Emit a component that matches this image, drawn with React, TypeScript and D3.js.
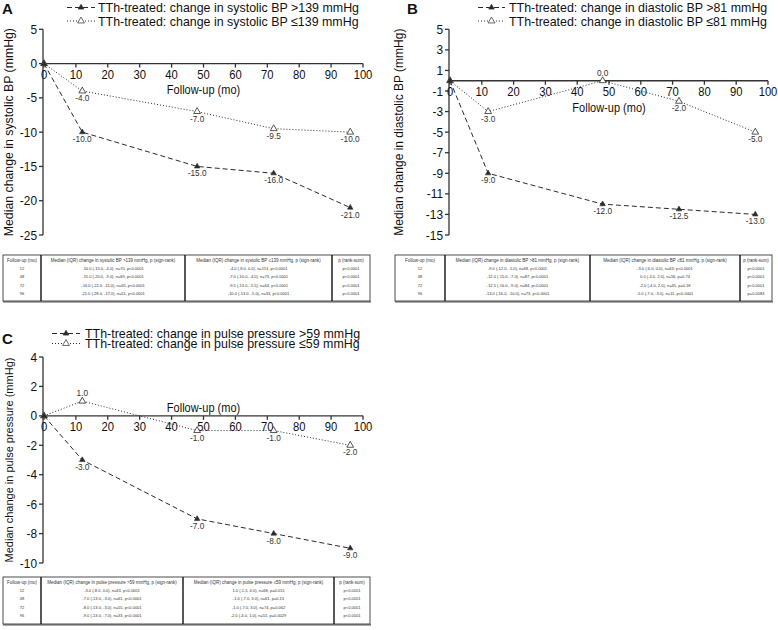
import React from "react";
import * as d3 from "d3";

// follow-up months and medians
const months = [0, 12, 48, 72, 96];
const sbpHigh = [0, -10, -15, -16, -21];
const sbpLow = [0, -4, -7, -9.5, -10];
const dbpHigh = [0, -9, -12, -12.5, -13];
const dbpLow = [0, -3, 0, -2, -5];
const ppHigh = [0, -3, -7, -8, -9];
const ppLow = [0, 1, -1, -1, -2];

const xTicks = [0, 10, 20, 30, 40, 50, 60, 70, 80, 90, 100];
const sbpTicks = [5, 0, -5, -10, -15, -20, -25];
const dbpTicks = [5, 3, 1, -1, -3, -5, -7, -9, -11, -13, -15];
const ppTicks = [4, 2, 0, -2, -4, -6, -8, -10];

const tableMonths = ["12", "48", "72", "96"];
const sbpHighRows = [
  "-10.0 (-15.0, -4.0), n=70, p<0.0001",
  "-15.0 (-20.0, -9.0), n=69, p<0.0001",
  "-16.0 (-22.0, -11.0), n=65, p<0.0001",
  "-21.0 (-28.0, -17.0), n=51, p<0.0001",
];
const sbpLowRows = [
  "-4.0 (-8.0, 0.0), n=151, p<0.0001",
  "-7.0 (-10.0, -4.0), n=73, p<0.0001",
  "-9.5 (-13.0, -5.5), n=64, p<0.0001",
  "-10.0 (-13.0, -5.0), n=33, p<0.0001",
];
const sbpP = ["p<0.0001", "p<0.0001", "p<0.0001", "p<0.0001"];
const dbpHighRows = [
  "-9.0 (-12.0, -5.0), n=68, p<0.0001",
  "-12.0 (-15.0, -7.0), n=87, p<0.0001",
  "-12.5 (-16.0, -9.0), n=84, p<0.0001",
  "-13.0 (-16.0, -10.0), n=73, p<0.0001",
];
const dbpLowRows = [
  "-3.0 (-6.0, 0.0), n=63, p<0.0001",
  "0.0 (-4.0, 2.0), n=56, p=0.74",
  "-2.0 (-4.0, 2.0), n=45, p=0.18",
  "-5.0 (-7.0, -3.0), n=11, p<0.0001",
];
const dbpP = ["p<0.0001", "p<0.0001", "p<0.0001", "p=0.0084"];
const ppHighRows = [
  "-3.0 (-8.0, 0.0), n=63, p<0.0001",
  "-7.0 (-13.0, -3.0), n=61, p<0.0001",
  "-8.0 (-13.0, -3.0), n=55, p<0.0001",
  "-9.0 (-13.0, -7.0), n=33, p<0.0001",
];
const ppLowRows = [
  "1.0 (-1.5, 4.0), n=68, p=0.015",
  "-1.0 (-7.0, 3.0), n=61, p=0.13",
  "-1.0 (-7.0, 3.0), n=74, p=0.062",
  "-2.0 (-4.0, 1.0), n=51, p=0.0029",
];
const ppP = ["p<0.0001", "p<0.0001", "p<0.0001", "p<0.0001"];

const FONT = "'Liberation Sans', Arial, sans-serif";
const INK = "#2b2b2b";

const filledTri = d3.symbol().type(d3.symbolTriangle).size(13)()!;
const openTri = d3.symbol().type(d3.symbolTriangle).size(20)()!;

// horizontally condensed text, the figure uses a narrow sans
function T({ x, y, size, anchor = "start", sx = 0.88, fill = "#111", children }) {
  return (
    <text transform={`translate(${x},${y}) scale(${sx},1)`} textAnchor={anchor} fontSize={size} fill={fill}>
      {children}
    </text>
  );
}

function Series({ x, y, values, dashed }) {
  const line = d3
    .line<number>()
    .x((_, i) => x(months[i]))
    .y((v) => y(v));
  return (
    <g>
      <path
        d={line(values) ?? ""}
        fill="none"
        stroke={INK}
        strokeWidth={1}
        strokeDasharray={dashed ? "5,3" : "1,2"}
      />
      {values.map((v, i) => (
        <path
          key={i}
          d={dashed ? filledTri : openTri}
          transform={`translate(${x(months[i])},${y(v)})`}
          fill={dashed ? INK : "#fff"}
          stroke={INK}
          strokeWidth={dashed ? 0.6 : 0.8}
        />
      ))}
      {values.map((v, i) =>
        i === 0 ? null : (
          <T key={"l" + i} x={x(months[i])} y={v >= 0 ? y(v) - 5 : y(v) + 10} size={9} anchor="middle" sx={0.92} fill="#333">
            {v.toFixed(1)}
          </T>
        )
      )}
    </g>
  );
}

function Panel({ letter, letterX, letterY, sampleX0, sampleX1, textX, rowY, legend, high, low, ticks, xRange, yRange, yTitle, titleX, titleSize, xTitleDy }) {
  const x = d3.scaleLinear().domain([0, 100]).range(xRange);
  const y = d3.scaleLinear().domain(d3.extent(ticks) as [number, number]).range(yRange);
  const ax = xRange[0] - 1;
  const ay = y(0);
  const mid = (sampleX0 + sampleX1) / 2;
  return (
    <g fontFamily={FONT}>
      <text x={letterX} y={letterY} fontSize={15} fontWeight="bold" fill="#111">
        {letter}
      </text>
      {legend.map((lab, i) => (
        <g key={i}>
          <line
            x1={sampleX0}
            x2={sampleX1}
            y1={rowY[i] - 4.5}
            y2={rowY[i] - 4.5}
            stroke={INK}
            strokeDasharray={i === 0 ? "5,3" : "1,2"}
          />
          <path
            d={i === 0 ? filledTri : openTri}
            transform={`translate(${mid},${rowY[i] - 4.5})`}
            fill={i === 0 ? INK : "#fff"}
            stroke={INK}
            strokeWidth={0.7}
          />
          <T x={textX} y={rowY[i]} size={13.5} sx={0.92}>
            {lab}
          </T>
        </g>
      ))}

      {/* y axis */}
      <line x1={ax} x2={ax} y1={y(ticks[0])} y2={y(ticks[ticks.length - 1])} stroke="#333" strokeWidth={1.3} />
      {ticks.map((t) => (
        <g key={t}>
          <line x1={ax - 4} x2={ax} y1={y(t)} y2={y(t)} stroke="#333" strokeWidth={1.3} />
          <T x={ax - 6} y={y(t) + 4.5} size={12.5} anchor="end" sx={0.95}>
            {t}
          </T>
        </g>
      ))}
      <text
        transform={`translate(${titleX},${(yRange[0] + yRange[1]) / 2}) rotate(-90)`}
        textAnchor="middle"
        fontSize={titleSize}
        fill="#111"
      >
        {yTitle}
      </text>

      {/* x axis on the zero line */}
      <line x1={ax} x2={xRange[1]} y1={ay} y2={ay} stroke="#333" strokeWidth={1.3} />
      {xTicks.map((t) => (
        <g key={t}>
          <line x1={x(t)} x2={x(t)} y1={ay} y2={ay + 4} stroke="#333" strokeWidth={1.3} />
          <T x={x(t)} y={ay + 15} size={12.5} anchor="middle" sx={0.9}>
            {t}
          </T>
        </g>
      ))}
      <T x={(xRange[0] + xRange[1]) / 2} y={ay + xTitleDy} size={12.5} anchor="middle" sx={0.88}>
        Follow-up (mo)
      </T>

      <Series x={x} y={y} values={low} dashed={false} />
      <Series x={x} y={y} values={high} dashed={true} />
    </g>
  );
}

function Table({ cols, top, bottom, rowY, header, c2, c3, c4 }) {
  const cells = [tableMonths, c2, c3, c4];
  return (
    <g fontFamily={FONT}>
      <rect x={cols[0]} y={top} width={cols[4] - cols[0]} height={bottom - top} fill="#fff" stroke="#222" strokeWidth={0.8} />
      <line x1={cols[0]} x2={cols[4] + 1} y1={bottom + 0.8} y2={bottom + 0.8} stroke="#555" strokeWidth={1.2} />
      {cols.slice(1, 4).map((c, i) => (
        <line key={i} x1={c} x2={c} y1={top} y2={bottom} stroke="#111" strokeWidth={1.4} />
      ))}
      {header.map((h, j) => (
        <text key={"h" + j} x={(cols[j] + cols[j + 1]) / 2} y={rowY[0]} textAnchor="middle" fontSize={4.5} fill="#333">
          {h}
        </text>
      ))}
      {cells.map((col, j) =>
        col.map((v, i) => (
          <text key={j + "-" + i} x={(cols[j] + cols[j + 1]) / 2} y={rowY[i + 1]} textAnchor="middle" fontSize={4} fill="#333">
            {v}
          </text>
        ))
      )}
    </g>
  );
}

export default function App() {
  return (
    <svg width={778} height={630} style={{ position: "absolute", left: 0, top: 0, background: "#fff" }}>
      <Panel
        letter="A"
        letterX={2}
        letterY={14}
        sampleX0={67}
        sampleX1={95}
        textX={98}
        rowY={[12, 25.5]}
        legend={["TTh-treated: change in systolic BP >139 mmHg", "TTh-treated: change in systolic BP \u2264139 mmHg"]}
        high={sbpHigh}
        low={sbpLow}
        ticks={sbpTicks}
        xRange={[44, 363]}
        yRange={[235, 29.3]}
        yTitle="Median change in systolic BP (mmHg)"
        titleX={13}
        titleSize={12.3}
        xTitleDy={30}
      />
      <Panel
        letter="B"
        letterX={407}
        letterY={14}
        sampleX0={478}
        sampleX1={505}
        textX={509}
        rowY={[12, 25.5]}
        legend={["TTh-treated: change in diastolic BP >81 mmHg", "TTh-treated: change in diastolic BP \u226481 mmHg"]}
        high={dbpHigh}
        low={dbpLow}
        ticks={dbpTicks}
        xRange={[450, 768]}
        yRange={[235, 29.3]}
        yTitle="Median change in diastolic BP (mmHg)"
        titleX={403}
        titleSize={12}
        xTitleDy={31}
      />
      <Panel
        letter="C"
        letterX={2}
        letterY={344}
        sampleX0={52}
        sampleX1={80}
        textX={85}
        rowY={[338, 348]}
        legend={["TTh-treated: change in pulse pressure >59 mmHg", "TTh-treated: change in pulse pressure \u226459 mmHg"]}
        high={ppHigh}
        low={ppLow}
        ticks={ppTicks}
        xRange={[44, 363]}
        yRange={[563, 357]}
        yTitle="Median change in pulse pressure (mmHg)"
        titleX={13}
        titleSize={11}
        xTitleDy={-4}
      />
      <Table
        cols={[3, 41, 185, 332, 370]}
        top={255}
        bottom={301}
        rowY={[262, 270, 278.3, 286.6, 295]}
        header={["Follow-up (mo)", "Median (IQR) change in systolic BP >139 mmHg, p (sign-rank)", "Median (IQR) change in systolic BP \u2264139 mmHg, p (sign-rank)", "p (rank-sum)"]}
        c2={sbpHighRows}
        c3={sbpLowRows}
        c4={sbpP}
      />
      <Table
        cols={[395, 445, 590, 740, 772]}
        top={255}
        bottom={301}
        rowY={[262, 270, 278.3, 286.6, 295]}
        header={["Follow-up (mo)", "Median (IQR) change in diastolic BP >81 mmHg, p (sign-rank)", "Median (IQR) change in diastolic BP \u226481 mmHg, p (sign-rank)", "p (rank-sum)"]}
        c2={dbpHighRows}
        c3={dbpLowRows}
        c4={dbpP}
      />
      <Table
        cols={[3, 41, 183, 334, 370]}
        top={577}
        bottom={624}
        rowY={[584, 592, 600.3, 608.6, 617]}
        header={["Follow-up (mo)", "Median (IQR) change in pulse pressure >59 mmHg, p (sign-rank)", "Median (IQR) change in pulse pressure \u226459 mmHg, p (sign-rank)", "p (rank-sum)"]}
        c2={ppHighRows}
        c3={ppLowRows}
        c4={ppP}
      />
    </svg>
  );
}
